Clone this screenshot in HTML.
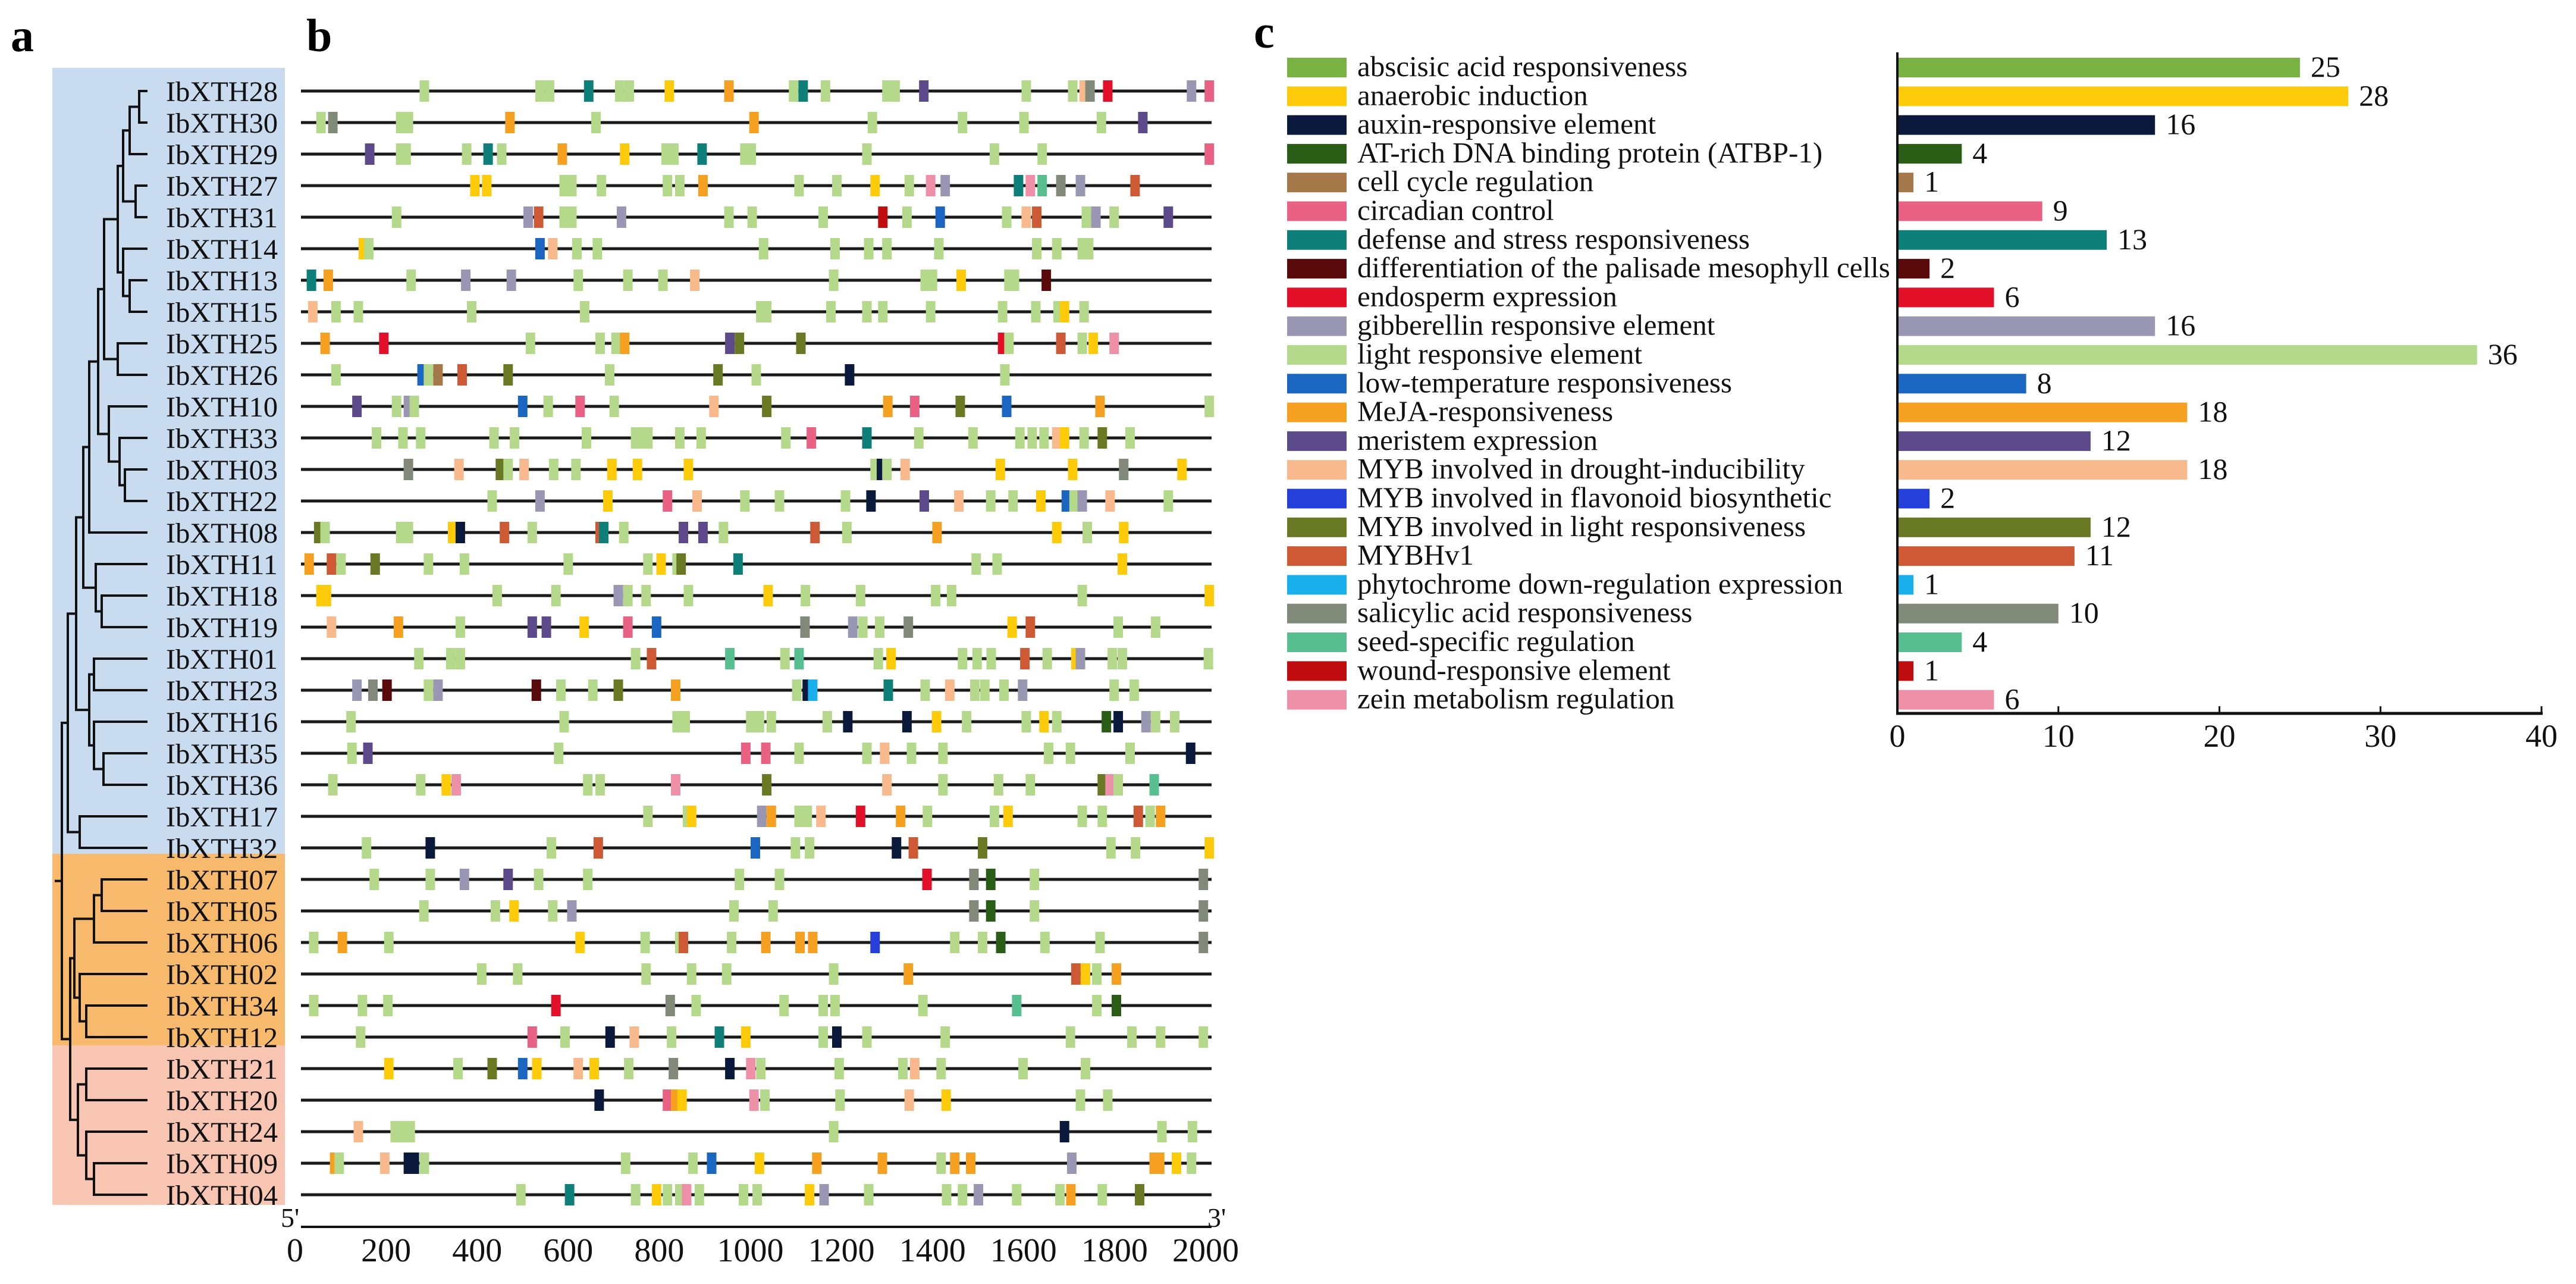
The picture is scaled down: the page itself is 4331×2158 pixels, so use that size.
<!DOCTYPE html>
<html><head><meta charset="utf-8"><style>
html,body{margin:0;padding:0;background:#fff;}
svg{display:block;font-family:"Liberation Serif",serif;}
</style></head><body>
<svg id="fig" width="4331" height="2158" viewBox="0 0 4331 2158" xmlns="http://www.w3.org/2000/svg">
<rect x="0" y="0" width="4331" height="2158" fill="#fff"/>
<text x="18" y="86" font-size="78" font-weight="bold">a</text>
<text x="515" y="86" font-size="78" font-weight="bold">b</text>
<text x="2108" y="80" font-size="78" font-weight="bold">c</text>
<rect x="88" y="114" width="391" height="1321" fill="#c9dbee"/>
<rect x="88" y="1435" width="391" height="322" fill="#f7ba6c"/>
<rect x="88" y="1757" width="391" height="268" fill="#f8c5b2"/>
<g id="tree"></g>
<g id="labels"></g>
<g id="motifs"></g>
<g id="baxis"></g>
<g id="chart"></g>
</svg>
<script>
const genes = ["IbXTH28","IbXTH30","IbXTH29","IbXTH27","IbXTH31","IbXTH14","IbXTH13","IbXTH15","IbXTH25","IbXTH26","IbXTH10","IbXTH33","IbXTH03","IbXTH22","IbXTH08","IbXTH11","IbXTH18","IbXTH19","IbXTH01","IbXTH23","IbXTH16","IbXTH35","IbXTH36","IbXTH17","IbXTH32","IbXTH07","IbXTH05","IbXTH06","IbXTH02","IbXTH34","IbXTH12","IbXTH21","IbXTH20","IbXTH24","IbXTH09","IbXTH04"];
const motifColors = {L:"#b5d98a",A:"#77b243",Y:"#fdcb0a",O:"#f5a020",T:"#0f7f7a",P:"#5c4a8a",G:"#9a97b5",S:"#818a78",R:"#e3102a",W:"#c00d10",K:"#ee90a8",C:"#ea6283",D:"#f8b98c",B:"#1a66c0",N:"#0b1a3c",M:"#6a7a24",H:"#cd5a35",E:"#2a5e17",F:"#2440d8",Q:"#1ab0ee",X:"#5a0a0a",Z:"#58c090",U:"#a5784a"};
const motifs = [
"271L 525L 546L 632T 700L 721L 809Y 940O 1082L 1103T 1152L 1287L 1305L 1368P 1593L 1695L 1720D 1733S 1772R 1956G 1995C",
"44L 70S 219L 236L 459O 648L 995O 1255L 1453L 1588L 1758L 1849P",
"151P 219L 231L 364L 411T 441L 574O 711Y 802L 819L 881T 975L 989L 1243L 1523L 1628L 1995C",
"382Y 408Y 578L 595L 660L 805L 832L 883O 1094L 1177L 1261Y 1336L 1383K 1415G 1576T 1602K 1628Z 1669S 1712G 1832H",
"210L 499G 522H 578L 595L 704G 940L 991L 1147L 1278W 1331L 1404B 1550L 1593D 1616H 1725L 1746G 1786L 1905P",
"137Y 149L 525B 553D 606L 651L 1016L 1173L 1247L 1287L 1401L 1616L 1660L 1716L 1730L",
"23T 60O 242L 362G 462G 609L 718L 795L 865D 1170L 1371L 1387L 1450Y 1555L 1567L 1637X",
"26D 77L 126L 375L 623L 1010L 1023L 1164L 1243L 1278L 1383L 1541L 1614L 1663L 1677Y 1720L",
"53O 182R 504L 657L 692L 711O 942P 963M 1098M 1541R 1555L 1669H 1716L 1740Y 1786K",
"77L 266B 280L 301U 354H 455M 678L 916M 1000L 1205N 1546L",
"123P 210L 236G 249L 487B 543L 613C 688L 907D 1023M 1289O 1348C 1448M 1550B 1755O 1995L",
"166L 224L 263L 424L 469L 627L 735L 748L 762L 832L 879L 1065L 1121C 1243T 1357L 1476L 1579L 1606L 1632L 1660D 1677Y 1720L 1760M 1821L",
"236S 347D 438M 455L 490D 555L 604L 683Y 739Y 851Y 1261L 1275N 1287L 1327D 1536Y 1695Y 1807S 1935Y",
"420L 525G 674Y 805C 870D 975L 1051L 1196L 1252N 1369P 1445D 1515L 1564L 1625Y 1681B 1698L 1716G 1777D 1905L",
"39M 53L 219L 236L 333Y 350N 447H 508L 657H 665T 709L 840P 883P 928L 1129H 1199L 1397O 1660Y 1727L 1807Y",
"18O 67H 88L 163M 280L 359L 587L 762L 791Y 826L 835M 960T 1483L 1529L 1804Y",
"44Y 56Y 431L 560L 697G 718L 758L 851L 1026Y 1108L 1229L 1394L 1429L 1716L 1995Y",
"67D 214O 350L 508P 539P 622Y 718C 781B 1107S 1212G 1234L 1271L 1334S 1562Y 1602H 1795L 1877L",
"259L 329L 350L 735L 770H 942Z 1063L 1094Z 1268L 1296Y 1453L 1485L 1516L 1590H 1639L 1702Y 1712G 1782L 1804L 1993L",
"123G 158S 189X 280L 301G 517X 571L 641L 697M 823O 1089L 1112N 1124Q 1290T 1371L 1425D 1480L 1502L 1544L 1585G 1786L 1830L",
"110L 578L 826L 844L 988L 1007L 1033L 1156L 1201N 1331N 1396Y 1462L 1593L 1632Y 1660L 1769E 1795N 1856G 1877L 1919L",
"112L 147P 566L 977C 1021C 1094L 1243L 1282D 1341L 1410L 1642L 1690L 1821L 1954N",
"70L 263L 319Y 341K 630L 657L 823K 1023M 1287D 1410L 1532L 1602L 1760M 1777K 1795L 1874Z",
"762L 849L 858Y 1012G 1033O 1094L 1112L 1142D 1229R 1317O 1376L 1523L 1553Y 1716L 1760L 1839H 1865L 1888O",
"144L 284N 550L 653H 998B 1086L 1117L 1308N 1345H 1497M 1779L 1833L 1995Y",
"161L 284L 359G 455P 522L 630L 963L 1051L 1375R 1478S 1515E 1611L 1982S",
"270L 427L 468Y 553L 595G 951L 1037L 1478S 1515E 1611L 1982S",
"28L 91O 193L 613Y 756L 832L 840H 946L 1021O 1096O 1124O 1261F 1436L 1497L 1537E 1634L 1755L 1982S",
"397L 476L 758L 858L 935L 1170L 1334O 1702H 1723Y 1748L 1791O",
"28L 135L 191L 560R 811S 868L 1061L 1147L 1173L 1366L 1572Z 1748L 1791E",
"131L 508C 580L 679N 732D 814L 919T 977Y 1147L 1177N 1243L 1415L 1690L 1825L 1888L 1982L",
"193Y 345L 420M 487B 518Y 609D 644Y 720L 818S 942N 988K 1010L 1182L 1322L 1348D 1406L 1586L 1723L",
"655N 805C 823O 837Y 995K 1019L 1184L 1336D 1417Y 1712L 1772L",
"126D 207L 224L 240L 1170L 1677N 1891L 1958L",
"74O 84L 184D 236N 249N 271L 713L 861L 902B 1007Y 1133O 1277O 1406L 1436O 1471O 1693G 1874O 1886O 1923Y 1956L",
"483L 590T 735L 781Y 805L 832L 847K 875L 972L 1002L 1117Y 1149G 1247L 1418L 1453L 1488G 1572L 1667L 1691O 1760L 1842M"
];
const seqTicks = [0,200,400,600,800,1000,1200,1400,1600,1800,2000];

const categories = ["abscisic acid responsiveness","anaerobic induction","auxin-responsive element","AT-rich DNA binding protein (ATBP-1)","cell cycle regulation","circadian control","defense and stress responsiveness","differentiation of the palisade mesophyll cells","endosperm expression","gibberellin responsive element","light responsive element","low-temperature responsiveness","MeJA-responsiveness","meristem expression","MYB involved in drought-inducibility","MYB involved in flavonoid biosynthetic","MYB involved in light responsiveness","MYBHv1","phytochrome down-regulation expression","salicylic acid responsiveness","seed-specific regulation","wound-responsive element","zein metabolism regulation"];
const counts = [25,28,16,4,1,9,13,2,6,16,36,8,18,12,18,2,12,11,1,10,4,1,6];
const barColors = ["#77b243","#fdcb0a","#0b1a3c","#2a5e17","#a5784a","#ea6283","#0f7f7a","#5a0a0a","#e3102a","#9a97b5","#b5d98a","#1a66c0","#f5a020","#5c4a8a","#f8b98c","#2440d8","#6a7a24","#cd5a35","#1ab0ee","#818a78","#58c090","#c00d10","#ee90a8"];
const countTicks = [0,10,20,30,40];

const NS="http://www.w3.org/2000/svg";
function mk(tag,attrs,parent){const e=document.createElementNS(NS,tag);for(const k in attrs)e.setAttribute(k,attrs[k]);parent.appendChild(e);return e;}
const rowY = i => 153 + 53*i;
const bpX = bp => 506 + bp*(2037-506)/2000;

// tree
const tree = document.getElementById('tree');
const T = (a,b,x)=>({a,b,x});
const L = n => genes.indexOf("IbXTH"+n);
const c1=T(T(L("28"),L("30"),234),L("29"),218);
const c3=T(c1,T(L("27"),L("31"),228),207);
const c4=T(L("14"),T(L("13"),L("15"),218),207);
const c7=T(T(c3,c4,198),T(L("25"),L("26"),198),175);
const c8=T(L("10"),T(L("33"),T(L("03"),L("22"),210),201),183);
const c10=T(T(c7,c8,165),L("08"),150);
const c11=T(L("11"),T(L("18"),L("19"),171),161);
const c13=T(T(L("01"),L("23"),158),T(L("16"),T(L("35"),L("36"),174),158),150);
const c15=T(T(T(c10,c11,140),c13,128),T(L("17"),L("32"),134),114);
const orange=T(T(T(L("07"),L("05"),171),L("06"),158),T(L("02"),T(L("34"),L("12"),145),134),125);
const pink=T(T(L("21"),L("20"),145),T(L("24"),T(L("09"),L("04"),158),145),131);
const root=T(c15,T(orange,pink,118),104);
let d="";
function draw(n){ if(typeof n==="number") return {y:rowY(n),x:248};
 const A=draw(n.a),B=draw(n.b);
 d+=`M${A.x} ${A.y}H${n.x}V${B.y}H${B.x}`;
 return {y:(A.y+B.y)/2,x:n.x};}
const r=draw(root);
d+=`M${r.x} ${r.y}H92`;
mk('path',{d:d,fill:'none',stroke:'#111','stroke-width':4},tree);

// labels + motif rows
const lab=document.getElementById('labels'), mg=document.getElementById('motifs');
genes.forEach((g,i)=>{
 const t=mk('text',{x:279,y:rowY(i)+17,'font-size':48,textLength:188,lengthAdjust:'spacingAndGlyphs',fill:'#111'},lab);
 t.textContent=g;
 
 
 const ln=mk('line',{x1:506,x2:2037,y1:rowY(i),y2:rowY(i),stroke:'#1a1a1a','stroke-width':5},mg);
 
 
 motifs[i].split(' ').forEach(s=>{
  const bp=parseFloat(s), c=s.slice(-1);
  const rc=mk('rect',{x:bpX(bp)-8,y:rowY(i)-18,width:16,height:36,fill:motifColors[c]},mg);
  
  
 });
});

// sequence axis
const ba=document.getElementById('baxis');
mk('line',{x1:506,x2:2037,y1:2062,y2:2062,stroke:'#111','stroke-width':4},ba);
seqTicks.forEach(v=>{
 const t=mk('text',{x:bpX(v)-10,y:2120,'font-size':56,'text-anchor':'middle',fill:'#111'},ba);
 t.textContent=v;
 
 
});
let t5=mk('text',{x:472,y:2062,'font-size':46,fill:'#111'},ba);t5.textContent="5'";


let t3=mk('text',{x:2030,y:2062,'font-size':46,fill:'#111'},ba);t3.textContent="3'";



// bar chart
const ch=document.getElementById('chart');
const X0=3190, X1=4273, xs=v=>X0+v*(X1-X0)/40;
const cy=i=>113+i*48.3;
categories.forEach((c,i)=>{
 const sw=mk('rect',{x:2164,y:cy(i)-16,width:100,height:33,fill:barColors[i]},ch);
 
 
 const lt=mk('text',{x:2282,y:cy(i)+15,'font-size':49,fill:'#111'},ch);
 lt.textContent=c;
 
 
 const b=mk('rect',{x:X0,y:cy(i)-16,width:xs(counts[i])-X0,height:33,fill:barColors[i]},ch);
 
 
 const vt=mk('text',{x:xs(counts[i])+18,y:cy(i)+16,'font-size':50,fill:'#111'},ch);
 vt.textContent=counts[i];
 
 
});
mk('line',{x1:X0,x2:X0,y1:88,y2:1201,stroke:'#111','stroke-width':4},ch);
mk('line',{x1:X0-2,x2:X1+2,y1:1199,y2:1199,stroke:'#111','stroke-width':5},ch);
countTicks.forEach(v=>{
 mk('line',{x1:xs(v),x2:xs(v),y1:1187,y2:1199,stroke:'#111','stroke-width':3},ch);
 const t=mk('text',{x:xs(v),y:1255,'font-size':54,'text-anchor':'middle',fill:'#111'},ch);
 t.textContent=v;
 
 
});
</script>
</body></html>
